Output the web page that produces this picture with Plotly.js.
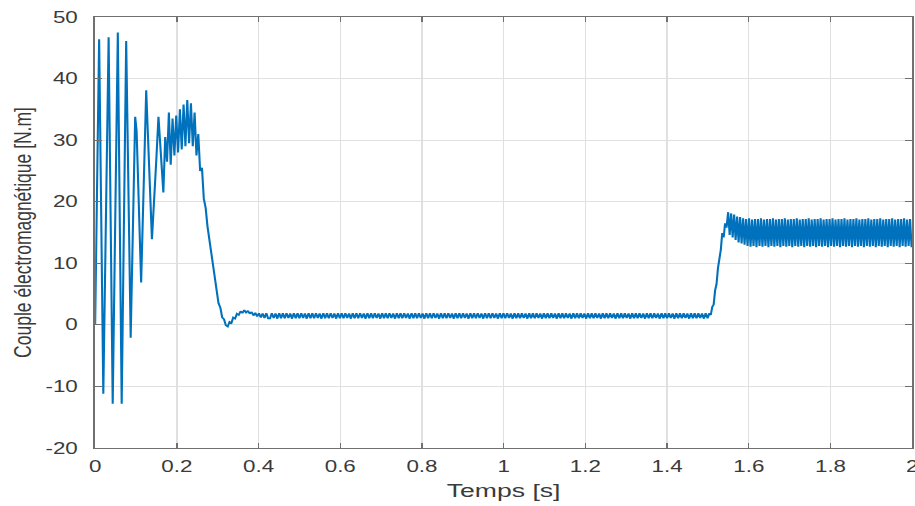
<!DOCTYPE html>
<html>
<head>
<meta charset="utf-8">
<script src="https://cdn.plot.ly/plotly-3.0.1.min.js"></script>
<style>
  html, body { margin: 0; padding: 0; background: #ffffff; overflow: hidden; }
  #wrap { width: 915px; height: 506px; overflow: hidden; }
  #plot { width: 654px; height: 506px; transform: scaleX(1.3991); transform-origin: 0 0; }
</style>
</head>
<body>
<div id="wrap"><div id="plot"></div></div>
<script>
// ---- Data ----
// Start-up transient (time [s], torque [N.m])
const startupT = [0, 0.0098, 0.020, 0.033, 0.043, 0.0555, 0.065, 0.076, 0.087, 0.098, 0.1015, 0.1126, 0.125, 0.139, 0.1495, 0.155, 0.167,
  0.1715, 0.176, 0.1805, 0.185, 0.1895, 0.194, 0.1985, 0.203, 0.2075, 0.212, 0.2165, 0.221, 0.2255, 0.230, 0.2345, 0.239, 0.2435, 0.248,
  0.2525, 0.257, 0.2615, 0.266, 0.2705, 0.275, 0.2795, 0.284, 0.2885, 0.293, 0.2975, 0.302, 0.3065, 0.311, 0.3155, 0.320, 0.3245, 0.329,
  0.3335, 0.338, 0.3425, 0.347, 0.3515, 0.356, 0.3605, 0.365, 0.3695, 0.374, 0.3785, 0.383, 0.3875];
const startupY = [0, 46.4, -11.2, 46.7, -12.8, 47.5, -12.8, 46.1, -2.1, 33.8, 31.5, 6.9, 38.1, 13.9, 26.5, 33.8, 21.5,
  30.5, 26.5, 34.5, 26.0, 33.5, 27.5, 34.0, 28.0, 35.0, 28.5, 35.8, 29.0, 36.5, 29.5, 36.0, 29.0, 34.5, 27.5,
  31.0, 25.0, 25.5, 20.5, 19.0, 16.0, 14.0, 11.5, 9.5, 7.0, 5.5, 3.5, 2.8, 1.2, 0.9, -0.1, -0.3, 0.5,
  0.3, 1.2, 1.0, 1.8, 1.6, 2.2, 1.9, 2.4, 2.0, 2.3, 1.8, 2.1, 1.5];

// No-load plateau: sampled every plateauStep seconds from plateauStart
const plateauStart = 0.392;
const plateauStep = 0.0045;
const plateauY = [
  1.95,1.35,1.90,1.20,1.85,1.10,1.90,1.05,
  1.05,1.90,1.10,1.85,1.00,1.90,1.08,1.88,
  1.05,1.90,1.10,1.85,1.00,1.90,1.08,1.88,
  1.05,1.90,1.10,1.85,1.00,1.90,1.08,1.88,
  1.05,1.90,1.10,1.85,1.00,1.90,1.08,1.88,
  1.05,1.90,1.10,1.85,1.00,1.90,1.08,1.88,
  1.05,1.90,1.10,1.85,1.00,1.90,1.08,1.88,
  1.05,1.90,1.10,1.85,1.00,1.90,1.08,1.88,
  1.05,1.90,1.10,1.85,1.00,1.90,1.08,1.88,
  1.05,1.90,1.10,1.85,1.00,1.90,1.08,1.88,
  1.05,1.90,1.10,1.85,1.00,1.90,1.08,1.88,
  1.05,1.90,1.10,1.85,1.00,1.90,1.08,1.88,
  1.05,1.90,1.10,1.85,1.00,1.90,1.08,1.88,
  1.05,1.90,1.10,1.85,1.00,1.90,1.08,1.88,
  1.05,1.90,1.10,1.85,1.00,1.90,1.08,1.88,
  1.05,1.90,1.10,1.85,1.00,1.90,1.08,1.88,
  1.05,1.90,1.10,1.85,1.00,1.90,1.08,1.88,
  1.05,1.90,1.10,1.85,1.00,1.90,1.08,1.88,
  1.05,1.90,1.10,1.85,1.00,1.90,1.08,1.88,
  1.05,1.90,1.10,1.85,1.00,1.90,1.08,1.88,
  1.05,1.90,1.10,1.85,1.00,1.90,1.08,1.88,
  1.05,1.90,1.10,1.85,1.00,1.90,1.08,1.88,
  1.05,1.90,1.10,1.85,1.00,1.90,1.08,1.88,
  1.05,1.90,1.10,1.85,1.00,1.90,1.08,1.88,
  1.05,1.90,1.10,1.85,1.00,1.90,1.08,1.88,
  1.05,1.90,1.10,1.85,1.00,1.90,1.08,1.88,
  1.05,1.90,1.10,1.85,1.00,1.90,1.08,1.88,
  1.05,1.90,1.10,1.85,1.00,1.90,1.08,1.88,
  1.05,1.90,1.10,1.85,1.00,1.90,1.08,1.88,
  1.05,1.90,1.10,1.85,1.00,1.90,1.08,1.88,
  1.05,1.90,1.10,1.85,1.00,1.90,1.08,1.88
];

// Load step at t = 1.5 s
const riseT = [1.507, 1.5105, 1.514, 1.5175, 1.521, 1.5245, 1.528, 1.5315, 1.535, 1.5385, 1.542, 1.5455];
const riseY = [1.6, 2.9, 3.3, 5.6, 6.6, 9.2, 10.6, 12.2, 14.9, 14.2, 16.5, 15.8];

// Loaded regime: sampled every loadStep seconds from loadStart
const loadStart = 1.5495;
const loadStep = 0.00365;
const loadY = [
  18.3,14.6,18.1,14.2,17.9,13.8,17.6,13.4,17.5,13.2,17.3,13.0,
  17.2,12.8,17.3,12.7,17.1,12.8,17.2,12.6,
  17.2,12.8,17.3,12.7,17.1,12.8,17.2,12.6,
  17.2,12.8,17.3,12.7,17.1,12.8,17.2,12.6,
  17.2,12.8,17.3,12.7,17.1,12.8,17.2,12.6,
  17.2,12.8,17.3,12.7,17.1,12.8,17.2,12.6,
  17.2,12.8,17.3,12.7,17.1,12.8,17.2,12.6,
  17.2,12.8,17.3,12.7,17.1,12.8,17.2,12.6,
  17.2,12.8,17.3,12.7,17.1,12.8,17.2,12.6,
  17.2,12.8,17.3,12.7,17.1,12.8,17.2,12.6,
  17.2,12.8,17.3,12.7,17.1,12.8,17.2,12.6,
  17.2,12.8,17.3,12.7,17.1,12.8,17.2,12.6,
  17.2,12.8,17.3,12.7,17.1,12.8,17.2,12.6,
  17.2,12.8,17.3,12.7,17.1,12.8,17.2,12.6,
  17.2,12.8,17.3,12.7,17.1,12.8,17.2,12.6
];

const xTickVals = [0, 0.2, 0.4, 0.6, 0.8, 1, 1.2, 1.4, 1.6, 1.8, 2];
const xTickText = ['0', '0.2', '0.4', '0.6', '0.8', '1', '1.2', '1.4', '1.6', '1.8', '2'];
const yTickVals = [-20, -10, 0, 10, 20, 30, 40, 50];
const yTickText = ['-20', '-10', '0', '10', '20', '30', '40', '50'];

const xLabel = 'Temps [s]';
const yLabel = 'Couple électromagnétique [N.m]';

// ---- Assemble the series ----
const t = [], y = [];
startupT.forEach((v, i) => { t.push(v); y.push(startupY[i]); });
plateauY.forEach((v, i) => { t.push(plateauStart + i * plateauStep); y.push(v); });
riseT.forEach((v, i) => { t.push(v); y.push(riseY[i]); });
loadY.forEach((v, i) => { t.push(loadStart + i * loadStep); y.push(v); });

const axisCommon = {
  showline: true, linecolor: '#707070', linewidth: 1.2, mirror: 'ticks',
  ticks: 'inside', ticklen: 5, tickwidth: 1, tickcolor: '#707070',
  showgrid: true, gridcolor: '#e0e0e0', gridwidth: 1,
  zeroline: false, ticklabeloverflow: 'allow',
  tickfont: { family: 'Liberation Sans, Arial, sans-serif', size: 16, color: '#3a3a3a' }
};

const layout = {
  width: 654, height: 506,
  margin: { l: 68, r: 2, t: 17, b: 58 },
  paper_bgcolor: '#ffffff', plot_bgcolor: '#ffffff',
  showlegend: false,
  xaxis: Object.assign({}, axisCommon, {
    range: [0, 2], tickmode: 'array', tickvals: xTickVals, ticktext: xTickText,
    ticklabelstandoff: 4,
    title: { text: xLabel, font: { family: 'Liberation Sans, Arial, sans-serif', size: 19, color: '#3a3a3a' }, standoff: 9 }
  }),
  yaxis: Object.assign({}, axisCommon, {
    range: [-20, 50], tickmode: 'array', tickvals: yTickVals, ticktext: yTickText,
    ticklabelstandoff: 8,
    title: { text: yLabel, font: { family: 'Liberation Sans, Arial, sans-serif', size: 17.5, color: '#3a3a3a' }, standoff: 5 }
  })
};

Plotly.newPlot('plot', [{
  type: 'scatter', mode: 'lines', x: t, y: y,
  line: { color: '#0072bd', width: 1.5 },
  hoverinfo: 'skip'
}], layout, { displayModeBar: false, staticPlot: true });
</script>
</body>
</html>
